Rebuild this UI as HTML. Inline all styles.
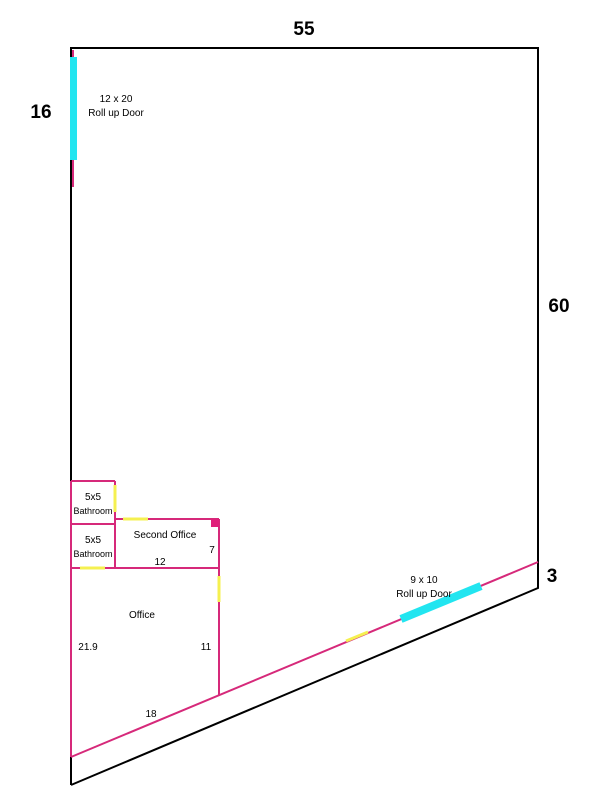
<!DOCTYPE html>
<html><head><style>
body{margin:0;background:#fff;}
svg text{font-family:"Liberation Sans",sans-serif;}
</style></head><body>
<svg width="612" height="792" viewBox="0 0 612 792" xmlns="http://www.w3.org/2000/svg">
<rect width="612" height="792" fill="#fff"/>
<polyline points="71,785 71,48 538,48 538,588 71,785" fill="none" stroke="#000" stroke-width="2"/>
<g stroke="#d6297a" stroke-width="2" fill="none">
<line x1="73" y1="50" x2="73" y2="187"/>
<line x1="71" y1="757" x2="538" y2="562"/>
<line x1="71" y1="481" x2="71" y2="757"/>
<line x1="71" y1="481" x2="115" y2="481"/>
<line x1="115" y1="481" x2="115" y2="568"/>
<line x1="71" y1="524" x2="115" y2="524"/>
<line x1="115" y1="519" x2="219" y2="519"/>
<line x1="219" y1="519" x2="219" y2="695"/>
<line x1="71" y1="568" x2="219" y2="568"/>
</g>
<rect x="211" y="519" width="8" height="8" fill="#e0207a"/>
<g stroke="#f5f050" stroke-width="3">
<line x1="115" y1="485" x2="115" y2="512"/>
<line x1="123" y1="519" x2="148" y2="519"/>
<line x1="80" y1="568" x2="105" y2="568"/>
<line x1="219" y1="576" x2="219" y2="602"/>
<line x1="346" y1="641" x2="368" y2="632"/>
</g>
<rect x="70" y="57" width="7" height="103" fill="#22e5f0"/>
<line x1="401" y1="619" x2="481" y2="586" stroke="#22e5f0" stroke-width="8"/>
<g font-weight="bold" font-size="19" text-anchor="middle">
<text x="304" y="35">55</text>
<text x="41" y="118">16</text>
<text x="559" y="312">60</text>
<text x="552" y="582">3</text>
</g>
<g font-size="10" text-anchor="middle">
<text x="116" y="102">12 x 20</text>
<text x="116" y="116">Roll up Door</text>
<text x="424" y="583">9 x 10</text>
<text x="424" y="597">Roll up Door</text>
<text x="93" y="500">5x5</text>
<text x="93" y="514" font-size="9">Bathroom</text>
<text x="93" y="543">5x5</text>
<text x="93" y="557" font-size="9">Bathroom</text>
<text x="165" y="538">Second Office</text>
<text x="212" y="553">7</text>
<text x="160" y="565">12</text>
<text x="142" y="618">Office</text>
<text x="88" y="650">21.9</text>
<text x="206" y="650">11</text>
<text x="151" y="717">18</text>
</g>
</svg>
</body></html>
